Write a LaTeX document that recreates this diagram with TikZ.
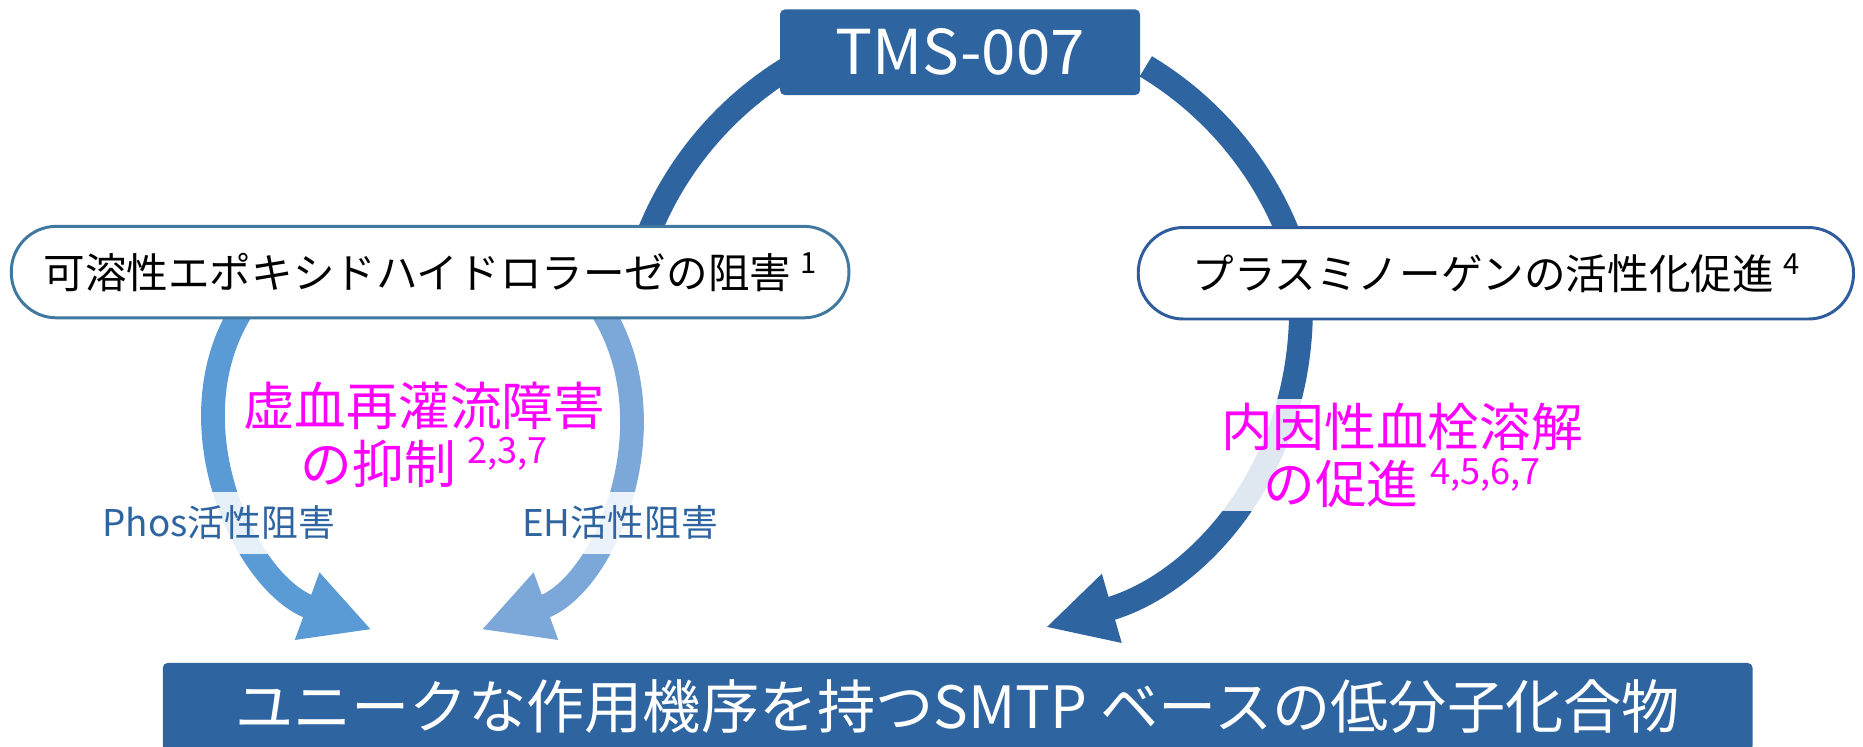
\documentclass[tikz,border=0pt]{standalone}
\usepackage{fontspec}
\setmainfont{Noto Sans CJK JP}
\usepackage{tikz}
\usetikzlibrary{arrows.meta, calc, positioning, backgrounds}
\definecolor{tmsblue}{HTML}{2E64A0}
\definecolor{sehborder}{HTML}{41789F}
\definecolor{plgborder}{HTML}{2E5C9C}
\definecolor{phosblue}{HTML}{5B9BD5}
\definecolor{ehblue}{HTML}{7CA8D9}
\definecolor{effectpink}{HTML}{FF00FF}
\newcommand{\refsup}[1]{\raisebox{0.37em}{\scalebox{0.7}{#1}}}
\tikzstyle{title} = [rectangle, rounded corners=4pt, fill=tmsblue, text=white, minimum width=303pt, minimum height=72pt, font=\fontsize{52}{56}\selectfont]
\tikzstyle{target} = [rectangle, rounded corners=38pt, line width=2.5pt, fill=white, minimum height=77pt, font=\fontsize{35}{40}\selectfont]
\tikzstyle{effect} = [align=center, text=effectpink, font=\fontsize{43.5}{48}\selectfont]
\tikzstyle{veil} = [fill=white, fill opacity=0.85, text opacity=1]
\tikzstyle{route} = [veil, text=tmsblue, minimum height=52pt, font=\fontsize{31}{34}\selectfont]
\tikzstyle{ring} = [line width=20pt, draw=tmsblue]
\tikzstyle{arrow} = [line width=20pt, -{Triangle[length=58pt, width=56pt]}]

\begin{document}
\begin{tikzpicture}[x=1pt, y=1pt]
		\useasboundingbox (0,0) rectangle (1568,628);
		\node (TMS) [title] at (808,584) {TMS-007};
		\node (Soluble) [target, draw=sehborder, minimum width=705pt] at (362,399) {可溶性エポキシドハイドロラーゼの阻害 \refsup{1}};
		\node (Plasmin) [target, draw=plgborder, minimum width=602pt] at (1259,398) {プラスミノーゲンの活性化促進 \refsup{4}};
		\node (Compound) [title, minimum width=1338pt, minimum height=74pt, font=\fontsize{49}{52}\selectfont] at (806,33) {ユニークな作用機序を持つSMTP ベースの低分子化合物};
		\node (Reperfusion) [effect] at (357,262) {虚血再灌流障害\\の抑制 \refsup{2,3,7}};
		\node (Thrombolysis) [effect, veil] at (1180,245) {内因性血栓溶解\\の促進 \refsup{4,5,6,7}};
		\node (Phos) [route] at (184,188) {Phos活性阻害};
		\node (EH) [route] at (522,188) {EH活性阻害};
		\coordinate (PhosTip) at (313,98);
		\coordinate (EHTip) at (405,98);
		\coordinate (LysisTip) at (880,100);

		\begin{scope}[on background layer]
			\draw [ring] ([xshift=180.5pt, yshift=-16pt]Soluble.north) arc[start angle=160, end angle=121, radius=290];
			\draw [ring] ([xshift=-171.5pt, yshift=-15pt]Plasmin.north) arc[start angle=20, end angle=59, radius=290];
			\draw [arrow, draw=phosblue] ([xshift=-157pt, yshift=10pt]Soluble.south) to[out=237, in=160] (PhosTip);
			\draw [arrow, draw=ehblue] ([xshift=143pt, yshift=10pt]Soluble.south) to[out=303, in=20] (EHTip);
			\draw [arrow, draw=tmsblue] ([xshift=-164pt, yshift=10pt]Plasmin.south) to[out=-90, in=16] (LysisTip);
		\end{scope}
\end{tikzpicture}
\end{document}
